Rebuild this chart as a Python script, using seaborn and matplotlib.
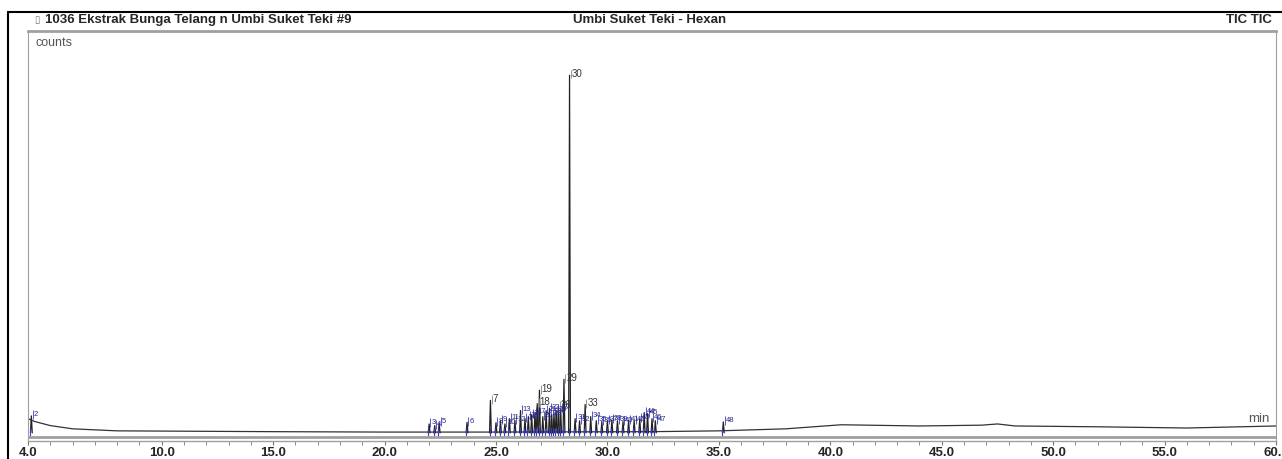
import pandas as pd
import seaborn as sns
import matplotlib.pyplot as plt
from matplotlib.lines import Line2D
from matplotlib.ticker import MultipleLocator, FixedLocator

# retention times (min), peak heights (x1e6 counts) and peak numbers
peak_rt = [4.15, 22.0, 22.25, 22.45, 23.7, 24.75, 25.0, 25.2, 25.4, 25.6,
           25.85, 26.1, 26.3, 26.45, 26.6, 26.75, 26.85, 26.95, 27.1, 27.25,
           27.4, 27.5, 27.6, 27.7, 27.8, 27.9, 28.05, 28.3, 28.55, 28.75,
           29.0, 29.25, 29.5, 29.75, 30.0, 30.2, 30.45, 30.7, 30.95, 31.2,
           31.45, 31.65, 31.8, 32.0, 32.15, 35.2]
peak_h = [0.42, 0.22, 0.18, 0.24, 0.26, 0.8, 0.25, 0.3, 0.22, 0.35,
          0.3, 0.55, 0.35, 0.4, 0.45, 0.5, 0.72, 1.05, 0.4, 0.55,
          0.6, 0.45, 0.5, 0.55, 0.65, 0.6, 1.32, 8.81, 0.35, 0.3,
          0.7, 0.4, 0.3, 0.28, 0.3, 0.32, 0.3, 0.28, 0.3, 0.3,
          0.35, 0.5, 0.48, 0.35, 0.3, 0.27]
peak_no = [2, 3, 4, 5, 6, 7, 8, 9, 10, 11,
           12, 13, 14, 15, 16, 17, 18, 19, 20, 21,
           22, 23, 24, 25, 26, 27, 29, 30, 31, 32,
           33, 34, 35, 36, 37, 38, 39, 40, 41, 42,
           43, 44, 45, 46, 47, 48]

# baseline drift of the TIC trace
base_t = [4.0, 4.3, 5.0, 6.0, 8.0, 15.0, 20.0, 25.0, 32.0, 35.0, 38.0,
          40.5, 44.0, 46.8, 47.5, 48.3, 52.0, 56.0, 60.0]
base_v = [0.35, 0.28, 0.18, 0.1, 0.05, 0.03, 0.02, 0.02, 0.03, 0.05, 0.1,
          0.2, 0.17, 0.19, 0.22, 0.17, 0.15, 0.12, 0.17]

xticks = [4.0, 10.0, 15.0, 20.0, 25.0, 30.0, 35.0, 40.0, 45.0, 50.0, 55.0, 60.0]

# build trace table: one narrow triangle per peak
w = 0.04
rows = []
for i, (t, h) in enumerate(zip(peak_rt, peak_h)):
    rows += [(i, t - w, 0.0), (i, t, h), (i, t + w, 0.0)]
peaks = pd.DataFrame(rows, columns=["peak", "t", "counts"])
base = pd.DataFrame({"t": base_t, "counts": base_v})

sns.set_style("white")
plt.rcParams['font.family'] = ['Liberation Sans Narrow', 'Liberation Sans', 'DejaVu Sans']

fig = plt.figure(figsize=(12.82, 4.59), dpi=100)
ax = fig.add_axes([28 / 1282, 18 / 459, 1248 / 1282, 410 / 459])

sns.lineplot(data=base, x="t", y="counts", color="#333333", lw=0.9, ax=ax)
sns.lineplot(data=peaks, x="t", y="counts", units="peak", estimator=None,
             sort=False, color="#222222", lw=0.9, ax=ax)

blue = "#3a3acc"
for t, h, n in zip(peak_rt, peak_h, peak_no):
    ax.vlines(t - w, -0.08, 0.12, color=blue, lw=0.8)
    ax.vlines(t + 0.06, h - 0.08, h + 0.14, color="#888888" if h > 0.6 else blue, lw=0.6)
    ax.text(t + 0.1, h + 0.03, str(n), fontsize=7 if h > 0.6 else 5.5,
            ha="left", va="center",
            color="#333333" if h > 0.6 else "#2a2a88")

ax.axhline(-0.1, color="#a0a0a0", lw=2.0)
ax.set_xlim(4.0, 60.0)
ax.set_ylim(-0.2, 9.9)
ax.set_xlabel("")
ax.set_ylabel("")
ax.set_yticks([])
ax.xaxis.set_major_locator(FixedLocator(xticks))
ax.xaxis.set_minor_locator(MultipleLocator(1.0))
ax.set_xticklabels([f"{v:.1f}" for v in xticks], fontsize=9.5, fontweight="bold")
ax.tick_params(axis="x", which="both", direction="out", length=3,
               color="#777777", bottom=True, pad=1.5)
for s in ax.spines.values():
    s.set_color("#a0a0a0")
ax.spines["top"].set_linewidth(2.0)
ax.spines["bottom"].set_linewidth(1.0)

ax.text(0.006, 0.985, "counts", transform=ax.transAxes, fontsize=9,
        color="#555555", ha="left", va="top")
ax.text(0.995, 0.04, "min", transform=ax.transAxes, fontsize=9.5,
        color="#555555", ha="right", va="bottom")

# header bar
fig.add_artist(Line2D([8 / 1282, 1.0], [1 - 12 / 459, 1 - 12 / 459],
                      color="black", lw=1.5))
fig.add_artist(Line2D([8 / 1282, 8 / 1282], [0.0, 1 - 12 / 459],
                      color="black", lw=1.5))
fig.text(34 / 1282, 1 - 20 / 459, "▯", fontsize=7, color="#777777",
         ha="left", va="center", family=['DejaVu Sans'])
fig.text(45 / 1282, 1 - 20 / 459, "1036 Ekstrak Bunga Telang n Umbi Suket Teki #9",
         fontsize=9.5, fontweight="bold", ha="left", va="center")
fig.text(650 / 1282, 1 - 20 / 459, "Umbi Suket Teki - Hexan",
         fontsize=9.5, fontweight="bold", ha="center", va="center")
fig.text(1272 / 1282, 1 - 20 / 459, "TIC TIC",
         fontsize=9.5, fontweight="bold", ha="right", va="center")

fig.savefig("out.png", dpi=100)
